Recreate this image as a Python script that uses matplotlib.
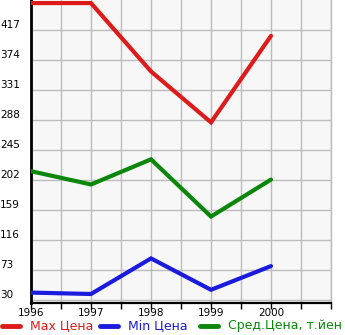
#!/usr/bin/env python3
import matplotlib
matplotlib.use("Agg")
import matplotlib.pyplot as plt
from matplotlib.lines import Line2D
import matplotlib.transforms as mtransforms

years = [1996, 1997, 1998, 1999, 2000]
max_price = [456, 456, 358, 285, 409]
min_price = [41, 39, 90, 45, 79]
avg_price = [215, 196, 232, 150, 203]
yticks = [30, 73, 116, 159, 202, 245, 288, 331, 374, 417]
series_names = ["Max Цена", "Min Цена", "Сред.Цена, т.йен"]
colors = ["#dd1b1b", "#1b1bdd", "#0a860a"]

W, H = 345, 335
fig = plt.figure(figsize=(W / 100, H / 100), dpi=100)
ax = fig.add_axes([31 / W, 1 - 302.5 / H, 300 / W, 302.5 / H])
ax.set_facecolor("#f7f7f7")

for vals, c in zip([max_price, min_price, avg_price], colors):
    ax.plot(years, vals, color=c, lw=3.0, solid_capstyle="round",
            solid_joinstyle="miter", zorder=3)

ax.set_xlim(1996, 2001)
ax.set_ylim(26.8, 460.4)
ax.set_xticks([1996 + 0.5 * i for i in range(11)])
ax.set_xticklabels([])
ax.set_yticks(yticks)
ax.set_yticklabels([])
ax.tick_params(axis="x", length=4, width=1, color="black", direction="out")
ax.tick_params(axis="y", length=0)
ax.grid(True, color="#bbbbbb", lw=1)
ax.set_axisbelow(True)

ax.spines["top"].set_visible(False)
ax.spines["right"].set_color("#bbbbbb")
ax.spines["right"].set_linewidth(1)
ax.spines["left"].set_color("black")
ax.spines["left"].set_linewidth(2)
ax.spines["bottom"].set_color("black")
ax.spines["bottom"].set_linewidth(1.6)

# y labels sit just above their grid line, flush left
tr = mtransforms.blended_transform_factory(fig.transFigure, ax.transData)
for v in yticks:
    ax.text(0 / W, v + 1, str(v), transform=tr, ha="left", va="bottom",
            fontsize=7.5, color="black")

for y in years:
    ax.text(y, -0.018, str(y), transform=ax.get_xaxis_transform(),
            ha="center", va="top", fontsize=7.5, color="black")

# legend row along the bottom
leg_x = [0, 98, 198]
for x0, name, c in zip(leg_x, series_names, colors):
    fig.add_artist(Line2D([(x0 + 2) / W, (x0 + 20) / W],
                          [1 - 326 / H, 1 - 326 / H],
                          color=c, lw=3.5, solid_capstyle="round"))
    fig.text((x0 + 30) / W, 1 - 326 / H, name, color=c, fontsize=9,
             ha="left", va="center")

fig.savefig("out.png", dpi=100)
